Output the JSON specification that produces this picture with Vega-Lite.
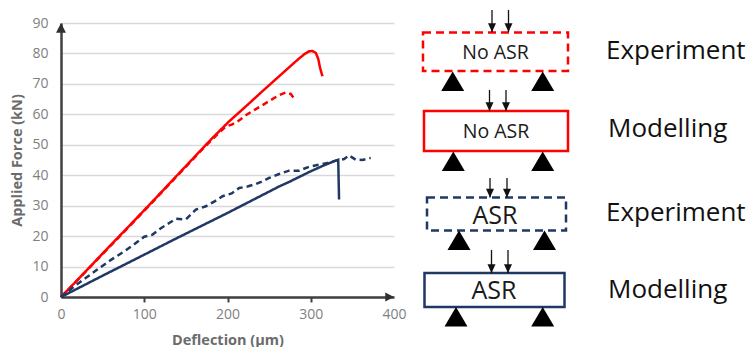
{
  "$schema": "https://vega.github.io/schema/vega-lite/v6.json",
  "background": "white",
  "padding": {"left": 9, "top": 9, "right": 0, "bottom": 0},
  "spacing": 0,
  "config": {"view": {"stroke": null}, "font": "Open Sans"},
  "resolve": {"scale": {"x": "independent", "y": "independent", "color": "independent", "stroke": "independent", "strokeDash": "independent"}},
  "datasets": {
    "curves": [
      {"i": 0, "d": 0, "f": 0, "asr": "No ASR", "method": "Modelling"},
      {"i": 1, "d": 25, "f": 7.1, "asr": "No ASR", "method": "Modelling"},
      {"i": 2, "d": 50, "f": 14.3, "asr": "No ASR", "method": "Modelling"},
      {"i": 3, "d": 80, "f": 22.8, "asr": "No ASR", "method": "Modelling"},
      {"i": 4, "d": 110, "f": 31.4, "asr": "No ASR", "method": "Modelling"},
      {"i": 5, "d": 140, "f": 40.1, "asr": "No ASR", "method": "Modelling"},
      {"i": 6, "d": 180, "f": 51.7, "asr": "No ASR", "method": "Modelling"},
      {"i": 7, "d": 202, "f": 57.7, "asr": "No ASR", "method": "Modelling"},
      {"i": 8, "d": 222, "f": 62.6, "asr": "No ASR", "method": "Modelling"},
      {"i": 9, "d": 242, "f": 67.6, "asr": "No ASR", "method": "Modelling"},
      {"i": 10, "d": 262, "f": 72.5, "asr": "No ASR", "method": "Modelling"},
      {"i": 11, "d": 282, "f": 77.4, "asr": "No ASR", "method": "Modelling"},
      {"i": 12, "d": 292, "f": 79.7, "asr": "No ASR", "method": "Modelling"},
      {"i": 13, "d": 298, "f": 80.7, "asr": "No ASR", "method": "Modelling"},
      {"i": 14, "d": 302, "f": 80.8, "asr": "No ASR", "method": "Modelling"},
      {"i": 15, "d": 306, "f": 80.2, "asr": "No ASR", "method": "Modelling"},
      {"i": 16, "d": 309, "f": 78.2, "asr": "No ASR", "method": "Modelling"},
      {"i": 17, "d": 311, "f": 75.5, "asr": "No ASR", "method": "Modelling"},
      {"i": 18, "d": 314, "f": 72.5, "asr": "No ASR", "method": "Modelling"},
      {"i": 0, "d": 0, "f": 0, "asr": "No ASR", "method": "Experiment"},
      {"i": 1, "d": 20, "f": 5.6, "asr": "No ASR", "method": "Experiment"},
      {"i": 2, "d": 50, "f": 14.1, "asr": "No ASR", "method": "Experiment"},
      {"i": 3, "d": 80, "f": 22.6, "asr": "No ASR", "method": "Experiment"},
      {"i": 4, "d": 110, "f": 31.2, "asr": "No ASR", "method": "Experiment"},
      {"i": 5, "d": 140, "f": 39.9, "asr": "No ASR", "method": "Experiment"},
      {"i": 6, "d": 170, "f": 48.6, "asr": "No ASR", "method": "Experiment"},
      {"i": 7, "d": 190, "f": 54.0, "asr": "No ASR", "method": "Experiment"},
      {"i": 8, "d": 198, "f": 56.0, "asr": "No ASR", "method": "Experiment"},
      {"i": 9, "d": 205, "f": 56.6, "asr": "No ASR", "method": "Experiment"},
      {"i": 10, "d": 212, "f": 57.6, "asr": "No ASR", "method": "Experiment"},
      {"i": 11, "d": 222, "f": 59.7, "asr": "No ASR", "method": "Experiment"},
      {"i": 12, "d": 232, "f": 61.4, "asr": "No ASR", "method": "Experiment"},
      {"i": 13, "d": 242, "f": 63.0, "asr": "No ASR", "method": "Experiment"},
      {"i": 14, "d": 252, "f": 64.7, "asr": "No ASR", "method": "Experiment"},
      {"i": 15, "d": 262, "f": 66.3, "asr": "No ASR", "method": "Experiment"},
      {"i": 16, "d": 270, "f": 67.2, "asr": "No ASR", "method": "Experiment"},
      {"i": 17, "d": 276, "f": 66.7, "asr": "No ASR", "method": "Experiment"},
      {"i": 18, "d": 280, "f": 65.2, "asr": "No ASR", "method": "Experiment"},
      {"i": 0, "d": 0, "f": 0, "asr": "ASR", "method": "Modelling"},
      {"i": 1, "d": 50, "f": 7.0, "asr": "ASR", "method": "Modelling"},
      {"i": 2, "d": 100, "f": 13.9, "asr": "ASR", "method": "Modelling"},
      {"i": 3, "d": 136, "f": 18.9, "asr": "ASR", "method": "Modelling"},
      {"i": 4, "d": 200, "f": 27.6, "asr": "ASR", "method": "Modelling"},
      {"i": 5, "d": 262, "f": 36.3, "asr": "ASR", "method": "Modelling"},
      {"i": 6, "d": 274, "f": 37.8, "asr": "ASR", "method": "Modelling"},
      {"i": 7, "d": 300, "f": 41.3, "asr": "ASR", "method": "Modelling"},
      {"i": 8, "d": 318, "f": 43.5, "asr": "ASR", "method": "Modelling"},
      {"i": 9, "d": 333, "f": 45.1, "asr": "ASR", "method": "Modelling"},
      {"i": 10, "d": 334, "f": 32.0, "asr": "ASR", "method": "Modelling"},
      {"i": 0, "d": 0, "f": 0, "asr": "ASR", "method": "Experiment"},
      {"i": 1, "d": 8, "f": 1.8, "asr": "ASR", "method": "Experiment"},
      {"i": 2, "d": 16, "f": 3.5, "asr": "ASR", "method": "Experiment"},
      {"i": 3, "d": 30, "f": 6.3, "asr": "ASR", "method": "Experiment"},
      {"i": 4, "d": 46, "f": 9.5, "asr": "ASR", "method": "Experiment"},
      {"i": 5, "d": 60, "f": 12.2, "asr": "ASR", "method": "Experiment"},
      {"i": 6, "d": 76, "f": 15.0, "asr": "ASR", "method": "Experiment"},
      {"i": 7, "d": 88, "f": 17.3, "asr": "ASR", "method": "Experiment"},
      {"i": 8, "d": 100, "f": 19.8, "asr": "ASR", "method": "Experiment"},
      {"i": 9, "d": 110, "f": 20.5, "asr": "ASR", "method": "Experiment"},
      {"i": 10, "d": 120, "f": 22.6, "asr": "ASR", "method": "Experiment"},
      {"i": 11, "d": 130, "f": 24.3, "asr": "ASR", "method": "Experiment"},
      {"i": 12, "d": 138, "f": 25.7, "asr": "ASR", "method": "Experiment"},
      {"i": 13, "d": 150, "f": 25.5, "asr": "ASR", "method": "Experiment"},
      {"i": 14, "d": 162, "f": 28.7, "asr": "ASR", "method": "Experiment"},
      {"i": 15, "d": 174, "f": 29.8, "asr": "ASR", "method": "Experiment"},
      {"i": 16, "d": 185, "f": 31.5, "asr": "ASR", "method": "Experiment"},
      {"i": 17, "d": 194, "f": 33.1, "asr": "ASR", "method": "Experiment"},
      {"i": 18, "d": 205, "f": 34.0, "asr": "ASR", "method": "Experiment"},
      {"i": 19, "d": 214, "f": 35.8, "asr": "ASR", "method": "Experiment"},
      {"i": 20, "d": 224, "f": 36.3, "asr": "ASR", "method": "Experiment"},
      {"i": 21, "d": 234, "f": 37.1, "asr": "ASR", "method": "Experiment"},
      {"i": 22, "d": 242, "f": 38.0, "asr": "ASR", "method": "Experiment"},
      {"i": 23, "d": 250, "f": 39.1, "asr": "ASR", "method": "Experiment"},
      {"i": 24, "d": 262, "f": 40.4, "asr": "ASR", "method": "Experiment"},
      {"i": 25, "d": 274, "f": 41.5, "asr": "ASR", "method": "Experiment"},
      {"i": 26, "d": 286, "f": 41.5, "asr": "ASR", "method": "Experiment"},
      {"i": 27, "d": 298, "f": 42.8, "asr": "ASR", "method": "Experiment"},
      {"i": 28, "d": 310, "f": 43.5, "asr": "ASR", "method": "Experiment"},
      {"i": 29, "d": 320, "f": 44.0, "asr": "ASR", "method": "Experiment"},
      {"i": 30, "d": 330, "f": 44.8, "asr": "ASR", "method": "Experiment"},
      {"i": 31, "d": 340, "f": 45.3, "asr": "ASR", "method": "Experiment"},
      {"i": 32, "d": 346, "f": 46.5, "asr": "ASR", "method": "Experiment"},
      {"i": 33, "d": 354, "f": 45.1, "asr": "ASR", "method": "Experiment"},
      {"i": 34, "d": 362, "f": 45.0, "asr": "ASR", "method": "Experiment"},
      {"i": 35, "d": 372, "f": 45.7, "asr": "ASR", "method": "Experiment"}
    ],
    "axisTips": [
      {"d": 0, "f": 90, "dir": "up"},
      {"d": 400, "f": 0, "dir": "right"}
    ],
    "boxes": [
      {"asr": "No ASR", "method": "Experiment", "x1": 422, "x2": 567, "y1": 31.5, "y2": 70, "tx": 494.5, "ty": 57.5, "lx": 605, "ly": 58},
      {"asr": "No ASR", "method": "Modelling", "x1": 423, "x2": 567, "y1": 110, "y2": 150, "tx": 495, "ty": 136.5, "lx": 607, "ly": 136},
      {"asr": "ASR", "method": "Experiment", "x1": 426, "x2": 565, "y1": 196.5, "y2": 229.5, "tx": 494, "ty": 222.5, "lx": 605, "ly": 220},
      {"asr": "ASR", "method": "Modelling", "x1": 423.5, "x2": 563.5, "y1": 272, "y2": 306, "tx": 493, "ty": 298, "lx": 607, "ly": 296.5}
    ],
    "arrows": [
      {"x": 491, "top": 9, "tip": 31},
      {"x": 507.5, "top": 9, "tip": 31},
      {"x": 488.5, "top": 89, "tip": 110},
      {"x": 505, "top": 89, "tip": 110},
      {"x": 489, "top": 177, "tip": 196.5},
      {"x": 506, "top": 177, "tip": 196.5},
      {"x": 490.5, "top": 249, "tip": 272},
      {"x": 507, "top": 249, "tip": 272}
    ],
    "supports": [
      {"x": 451.7, "y": 70.5},
      {"x": 541.7, "y": 70.5},
      {"x": 452.3, "y": 150.5},
      {"x": 541.7, "y": 150.5},
      {"x": 458, "y": 229.5},
      {"x": 543.5, "y": 229.5},
      {"x": 455, "y": 306},
      {"x": 541.7, "y": 306}
    ]
  },
  "hconcat": [
    {
      "width": 333,
      "height": 274,
      "encoding": {
        "x": {
          "field": "d", "type": "quantitative", "title": "Deflection (μm)",
          "scale": {"domain": [0, 400], "nice": false},
          "axis": {
            "values": [0, 100, 200, 300, 400], "grid": false,
            "domainColor": "#404040", "domainWidth": 2.5,
            "tickColor": {"condition": {"test": "datum.value > 0 && datum.value < 400", "value": "#404040"}, "value": "transparent"},
            "tickWidth": 2, "tickSize": 5,
            "labelColor": "#808080", "labelFontSize": 14, "labelPadding": 5, "labelFlush": false, "labelOverlap": false,
            "titleColor": "#6b6b6b", "titleFontSize": 14.5, "titleFontWeight": "bold", "titlePadding": 12
          }
        },
        "y": {
          "field": "f", "type": "quantitative", "title": "Applied Force (kN)",
          "scale": {"domain": [0, 90], "nice": false},
          "axis": {
            "values": [0, 10, 20, 30, 40, 50, 60, 70, 80, 90],
            "grid": true, "gridColor": "#d9d9d9", "gridWidth": 1.5,
            "ticks": false, "tickSize": 0,
            "domainColor": "#404040", "domainWidth": 2.5,
            "labelColor": "#808080", "labelFontSize": 14, "labelPadding": 13, "labelOverlap": false, "labelFlush": false,
            "titleColor": "#6b6b6b", "titleFontSize": 14.5, "titleFontWeight": "bold", "titlePadding": 7
          }
        }
      },
      "layer": [
        {
          "data": {"name": "curves"},
          "mark": {"type": "line", "strokeWidth": 2.5},
          "encoding": {
            "color": {"field": "asr", "type": "nominal", "scale": {"domain": ["No ASR", "ASR"], "range": ["#ff0000", "#1f3864"]}, "legend": null},
            "strokeDash": {"field": "method", "type": "nominal", "scale": {"domain": ["Experiment", "Modelling"], "range": [[6, 4], [1, 0]]}, "legend": null},
            "order": {"field": "i", "type": "quantitative"}
          }
        },
        {
          "data": {"name": "axisTips"},
          "transform": [{"filter": "datum.dir === 'up'"}],
          "mark": {"type": "point", "shape": "M0,0L-0.9,1.75L0.9,1.75Z", "filled": true, "color": "#303030", "opacity": 1, "size": 121}
        },
        {
          "data": {"name": "axisTips"},
          "transform": [{"filter": "datum.dir === 'right'"}],
          "mark": {"type": "point", "shape": "M0,0L-1.75,-0.9L-1.75,0.9Z", "filled": true, "color": "#303030", "opacity": 1, "size": 100}
        }
      ]
    },
    {
      "width": 344,
      "height": 274,
      "layer": [
        {
          "data": {"name": "boxes"},
          "transform": [{"filter": "datum.method === 'Experiment'"}],
          "mark": {"type": "rect", "fill": "white", "strokeWidth": 2.5, "strokeDash": [8, 5]},
          "encoding": {
            "x": {"field": "x1", "type": "quantitative", "scale": {"domain": [406, 750], "nice": false, "zero": false}, "axis": null},
            "x2": {"field": "x2"},
            "y": {"field": "y1", "type": "quantitative", "scale": {"domain": [22, 296], "nice": false, "zero": false, "reverse": true}, "axis": null},
            "y2": {"field": "y2"},
            "stroke": {"field": "asr", "type": "nominal", "scale": {"domain": ["No ASR", "ASR"], "range": ["#ff0000", "#1f3864"]}, "legend": null}
          }
        },
        {
          "data": {"name": "boxes"},
          "transform": [{"filter": "datum.method === 'Modelling'"}],
          "mark": {"type": "rect", "fill": "white", "strokeWidth": 2.5},
          "encoding": {
            "x": {"field": "x1", "type": "quantitative", "scale": {"domain": [406, 750], "nice": false, "zero": false}, "axis": null},
            "x2": {"field": "x2"},
            "y": {"field": "y1", "type": "quantitative", "scale": {"domain": [22, 296], "nice": false, "zero": false, "reverse": true}, "axis": null},
            "y2": {"field": "y2"},
            "stroke": {"field": "asr", "type": "nominal", "scale": {"domain": ["No ASR", "ASR"], "range": ["#ff0000", "#1f3864"]}, "legend": null}
          }
        },
        {
          "data": {"name": "arrows"},
          "mark": {"type": "rule", "strokeWidth": 1.3, "color": "#111111"},
          "encoding": {
            "x": {"field": "x", "type": "quantitative", "scale": {"domain": [406, 750], "nice": false, "zero": false}, "axis": null},
            "y": {"field": "top", "type": "quantitative", "scale": {"domain": [22, 296], "nice": false, "zero": false, "reverse": true}, "axis": null},
            "y2": {"field": "tip"}
          }
        },
        {
          "data": {"name": "arrows"},
          "mark": {"type": "point", "shape": "M0,0L-1,-2.2L1,-2.2Z", "filled": true, "color": "#111111", "opacity": 1, "size": 64},
          "encoding": {
            "x": {"field": "x", "type": "quantitative", "scale": {"domain": [406, 750], "nice": false, "zero": false}, "axis": null},
            "y": {"field": "tip", "type": "quantitative", "scale": {"domain": [22, 296], "nice": false, "zero": false, "reverse": true}, "axis": null}
          }
        },
        {
          "data": {"name": "supports"},
          "mark": {"type": "point", "shape": "M0,0L-1,1.7L1,1.7Z", "filled": true, "color": "#000000", "opacity": 1, "size": 529},
          "encoding": {
            "x": {"field": "x", "type": "quantitative", "scale": {"domain": [406, 750], "nice": false, "zero": false}, "axis": null},
            "y": {"field": "y", "type": "quantitative", "scale": {"domain": [22, 296], "nice": false, "zero": false, "reverse": true}, "axis": null}
          }
        },
        {
          "data": {"name": "boxes"},
          "transform": [{"filter": "datum.asr === 'No ASR'"}],
          "mark": {"type": "text", "baseline": "alphabetic", "align": "center", "fontSize": 19.5, "color": "#1a1a1a"},
          "encoding": {
            "x": {"field": "tx", "type": "quantitative", "scale": {"domain": [406, 750], "nice": false, "zero": false}, "axis": null},
            "y": {"field": "ty", "type": "quantitative", "scale": {"domain": [22, 296], "nice": false, "zero": false, "reverse": true}, "axis": null},
            "text": {"field": "asr"}
          }
        },
        {
          "data": {"name": "boxes"},
          "transform": [{"filter": "datum.asr === 'ASR'"}],
          "mark": {"type": "text", "baseline": "alphabetic", "align": "center", "fontSize": 25, "color": "#1a1a1a"},
          "encoding": {
            "x": {"field": "tx", "type": "quantitative", "scale": {"domain": [406, 750], "nice": false, "zero": false}, "axis": null},
            "y": {"field": "ty", "type": "quantitative", "scale": {"domain": [22, 296], "nice": false, "zero": false, "reverse": true}, "axis": null},
            "text": {"field": "asr"}
          }
        },
        {
          "data": {"name": "boxes"},
          "mark": {"type": "text", "baseline": "alphabetic", "align": "left", "fontSize": 26, "color": "#111111"},
          "encoding": {
            "x": {"field": "lx", "type": "quantitative", "scale": {"domain": [406, 750], "nice": false, "zero": false}, "axis": null},
            "y": {"field": "ly", "type": "quantitative", "scale": {"domain": [22, 296], "nice": false, "zero": false, "reverse": true}, "axis": null},
            "text": {"field": "method"}
          }
        }
      ]
    }
  ]
}
